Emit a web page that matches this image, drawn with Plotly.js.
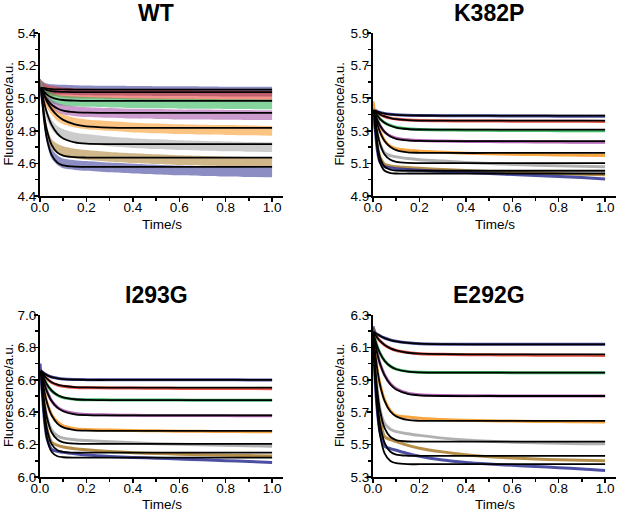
<!DOCTYPE html>
<html>
<head>
<meta charset="utf-8">
<script src="https://cdn.plot.ly/plotly-3.0.1.min.js"></script>
<style>
html,body{margin:0;padding:0;background:#fff;}
#chart{width:617px;height:511px;}
</style>
</head>
<body>
<div id="chart"></div>
<script>
// ---------- data ----------
const PANEL_TITLES = ["WT", "K382P", "I293G", "E292G"];
const SERIES_COLORS = ["#2e3192", "#e8392b", "#22b14c", "#a349a4", "#f7941d", "#a3a3a3", "#a87b2a", "#2e3192"];
const X_TITLE = "Time/s";
const Y_TITLE = "Fluorescence/a.u.";
const X_TICKS = [0, 0.2, 0.4, 0.6, 0.8, 1.0];

// time points of the measured traces
const T_DATA = [0, 0.01, 0.02, 0.03, 0.05, 0.075, 0.1, 0.15, 0.2, 0.3, 0.4, 0.5, 0.6, 0.7, 0.8, 0.9, 1.0];
// time points of the fitted curves
const T_FIT = [0.005, 0.01, 0.02, 0.03, 0.05, 0.075, 0.1, 0.15, 0.2, 0.3, 0.5, 1.0];
const T_FIT_E = [0.002, 0.01, 0.02, 0.03, 0.05, 0.075, 0.1, 0.15, 0.2, 0.3, 0.5, 1.0];

// ---- WT (scattered raw data: centre + half width of the noise band) ----
const WT_NOISE = [0.05, 0.04, 0.035, 0.032, 0.03, 0.03, 0.03, 0.03, 0.03, 0.03, 0.03, 0.03, 0.03, 0.03, 0.03, 0.03, 0.03];
const WT_DATA = [
  [5.07, 5.065, 5.06, 5.058, 5.055, 5.053, 5.052, 5.05, 5.048, 5.046, 5.045, 5.044, 5.043, 5.042, 5.041, 5.04, 5.04],
  [5.07, 5.06, 5.055, 5.05, 5.045, 5.04, 5.035, 5.03, 5.028, 5.025, 5.022, 5.02, 5.02, 5.018, 5.017, 5.016, 5.015],
  [5.07, 5.055, 5.035, 5.02, 5.0, 4.99, 4.985, 4.98, 4.977, 4.973, 4.97, 4.968, 4.966, 4.965, 4.964, 4.963, 4.962],
  [5.07, 5.045, 5.015, 4.99, 4.96, 4.94, 4.93, 4.92, 4.915, 4.91, 4.905, 4.903, 4.90, 4.90, 4.898, 4.897, 4.896],
  [5.07, 5.04, 5.0, 4.97, 4.93, 4.89, 4.87, 4.85, 4.84, 4.83, 4.82, 4.815, 4.81, 4.807, 4.805, 4.803, 4.80],
  [5.07, 5.02, 4.95, 4.9, 4.84, 4.8, 4.78, 4.76, 4.75, 4.735, 4.725, 4.718, 4.712, 4.708, 4.705, 4.702, 4.70],
  [5.07, 4.99, 4.88, 4.8, 4.72, 4.69, 4.675, 4.66, 4.652, 4.64, 4.632, 4.626, 4.62, 4.616, 4.613, 4.61, 4.608],
  [5.07, 4.97, 4.84, 4.75, 4.66, 4.62, 4.6, 4.59, 4.585, 4.575, 4.568, 4.562, 4.557, 4.553, 4.55, 4.547, 4.545]
];
const WT_FIT = [
  [5.065, 5.063, 5.061, 5.059, 5.056, 5.054, 5.054, 5.053, 5.053, 5.053, 5.053, 5.053],
  [5.065, 5.061, 5.055, 5.050, 5.044, 5.040, 5.039, 5.037, 5.037, 5.037, 5.037, 5.037],
  [5.065, 5.054, 5.036, 5.022, 5.005, 4.994, 4.989, 4.985, 4.984, 4.984, 4.984, 4.984],
  [5.065, 5.047, 5.016, 4.993, 4.960, 4.937, 4.924, 4.914, 4.911, 4.910, 4.910, 4.910],
  [5.065, 5.045, 5.009, 4.980, 4.933, 4.893, 4.867, 4.839, 4.827, 4.820, 4.818, 4.818],
  [5.065, 5.026, 4.960, 4.909, 4.836, 4.783, 4.753, 4.729, 4.721, 4.718, 4.718, 4.718],
  [5.065, 4.991, 4.878, 4.802, 4.714, 4.666, 4.648, 4.638, 4.636, 4.636, 4.636, 4.636],
  [5.065, 4.973, 4.838, 4.749, 4.652, 4.605, 4.588, 4.580, 4.579, 4.579, 4.579, 4.579]
];

// ---- K382P ----
const K_DATA = [
  [5.43, 5.425, 5.418, 5.413, 5.407, 5.402, 5.399, 5.396, 5.394, 5.393, 5.392, 5.392, 5.391, 5.391, 5.39, 5.39, 5.39],
  [5.43, 5.42, 5.41, 5.40, 5.388, 5.378, 5.372, 5.366, 5.363, 5.361, 5.36, 5.36, 5.359, 5.359, 5.358, 5.358, 5.357],
  [5.43, 5.412, 5.391, 5.373, 5.35, 5.333, 5.322, 5.312, 5.308, 5.305, 5.304, 5.303, 5.302, 5.302, 5.301, 5.3, 5.3],
  [5.43, 5.40, 5.362, 5.333, 5.293, 5.268, 5.255, 5.245, 5.24, 5.237, 5.235, 5.234, 5.233, 5.232, 5.231, 5.23, 5.23],
  [5.48, 5.39, 5.335, 5.295, 5.24, 5.205, 5.19, 5.18, 5.175, 5.168, 5.163, 5.159, 5.156, 5.154, 5.152, 5.15, 5.149],
  [5.43, 5.36, 5.28, 5.22, 5.165, 5.148, 5.14, 5.13, 5.123, 5.114, 5.106, 5.1, 5.094, 5.089, 5.085, 5.082, 5.08],
  [5.43, 5.32, 5.2, 5.14, 5.095, 5.085, 5.08, 5.075, 5.07, 5.063, 5.057, 5.051, 5.046, 5.041, 5.037, 5.033, 5.03],
  [5.43, 5.3, 5.17, 5.11, 5.08, 5.072, 5.068, 5.063, 5.058, 5.05, 5.044, 5.038, 5.032, 5.026, 5.02, 5.013, 5.005]
];
const K_FIT = [
  [5.425, 5.422, 5.417, 5.412, 5.406, 5.401, 5.398, 5.395, 5.394, 5.393, 5.393, 5.393],
  [5.425, 5.419, 5.409, 5.400, 5.388, 5.378, 5.371, 5.365, 5.363, 5.362, 5.362, 5.362],
  [5.425, 5.412, 5.391, 5.373, 5.349, 5.331, 5.320, 5.311, 5.308, 5.307, 5.307, 5.307],
  [5.425, 5.401, 5.362, 5.333, 5.293, 5.265, 5.251, 5.241, 5.238, 5.237, 5.237, 5.237],
  [5.425, 5.391, 5.335, 5.294, 5.238, 5.201, 5.182, 5.168, 5.165, 5.164, 5.164, 5.164],
  [5.425, 5.367, 5.279, 5.221, 5.155, 5.122, 5.109, 5.103, 5.102, 5.102, 5.102, 5.102],
  [5.425, 5.329, 5.206, 5.138, 5.080, 5.061, 5.056, 5.055, 5.055, 5.055, 5.055, 5.055],
  [5.425, 5.311, 5.173, 5.105, 5.055, 5.041, 5.038, 5.038, 5.038, 5.038, 5.038, 5.038]
];

// ---- I293G ----
const I_DATA = [
  [6.66, 6.648, 6.637, 6.629, 6.617, 6.61, 6.605, 6.602, 6.601, 6.6, 6.6, 6.6, 6.6, 6.6, 6.6, 6.599, 6.598],
  [6.66, 6.643, 6.62, 6.605, 6.583, 6.568, 6.56, 6.553, 6.551, 6.55, 6.549, 6.548, 6.547, 6.547, 6.546, 6.546, 6.545],
  [6.66, 6.634, 6.598, 6.57, 6.532, 6.505, 6.49, 6.48, 6.477, 6.476, 6.475, 6.475, 6.475, 6.474, 6.474, 6.474, 6.473],
  [6.66, 6.623, 6.57, 6.53, 6.47, 6.43, 6.41, 6.392, 6.386, 6.383, 6.381, 6.38, 6.38, 6.379, 6.379, 6.378, 6.378],
  [6.66, 6.6, 6.52, 6.46, 6.385, 6.34, 6.315, 6.298, 6.293, 6.29, 6.287, 6.285, 6.283, 6.282, 6.281, 6.28, 6.28],
  [6.66, 6.57, 6.45, 6.37, 6.29, 6.255, 6.24, 6.23, 6.225, 6.217, 6.211, 6.206, 6.202, 6.199, 6.196, 6.193, 6.19],
  [6.66, 6.54, 6.39, 6.3, 6.215, 6.195, 6.185, 6.175, 6.168, 6.158, 6.15, 6.145, 6.141, 6.138, 6.135, 6.132, 6.13],
  [6.70, 6.52, 6.34, 6.24, 6.17, 6.158, 6.152, 6.143, 6.136, 6.127, 6.121, 6.116, 6.111, 6.106, 6.101, 6.096, 6.09]
];
const I_FIT = [
  [6.655, 6.648, 6.637, 6.629, 6.617, 6.609, 6.604, 6.601, 6.599, 6.599, 6.599, 6.599],
  [6.655, 6.643, 6.623, 6.607, 6.585, 6.570, 6.562, 6.555, 6.553, 6.552, 6.552, 6.552],
  [6.655, 6.634, 6.599, 6.571, 6.534, 6.506, 6.492, 6.480, 6.476, 6.475, 6.475, 6.475],
  [6.655, 6.623, 6.569, 6.527, 6.469, 6.428, 6.406, 6.387, 6.382, 6.380, 6.380, 6.380],
  [6.655, 6.604, 6.521, 6.460, 6.381, 6.330, 6.306, 6.290, 6.286, 6.285, 6.285, 6.285],
  [6.655, 6.572, 6.448, 6.367, 6.276, 6.231, 6.214, 6.206, 6.205, 6.205, 6.205, 6.205],
  [6.655, 6.543, 6.388, 6.295, 6.203, 6.165, 6.155, 6.150, 6.150, 6.150, 6.150, 6.150],
  [6.655, 6.516, 6.338, 6.239, 6.156, 6.128, 6.122, 6.120, 6.120, 6.120, 6.120, 6.120]
];

// ---- E292G ----
const E_DATA = [
  [6.23, 6.19, 6.18, 6.172, 6.158, 6.146, 6.138, 6.128, 6.123, 6.12, 6.119, 6.119, 6.119, 6.119, 6.12, 6.12, 6.12],
  [6.22, 6.175, 6.156, 6.14, 6.115, 6.094, 6.081, 6.068, 6.061, 6.057, 6.055, 6.054, 6.053, 6.052, 6.052, 6.051, 6.05],
  [6.22, 6.143, 6.099, 6.065, 6.018, 5.984, 5.966, 5.952, 5.947, 5.945, 5.945, 5.945, 5.944, 5.944, 5.944, 5.944, 5.944],
  [6.22, 6.118, 6.052, 6.0, 5.93, 5.875, 5.845, 5.818, 5.808, 5.803, 5.802, 5.801, 5.8, 5.8, 5.8, 5.8, 5.8],
  [6.22, 6.057, 5.95, 5.875, 5.775, 5.71, 5.68, 5.67, 5.662, 5.655, 5.65, 5.647, 5.645, 5.643, 5.642, 5.641, 5.64],
  [6.22, 5.97, 5.82, 5.72, 5.63, 5.595, 5.58, 5.567, 5.557, 5.54, 5.528, 5.52, 5.515, 5.511, 5.508, 5.506, 5.505],
  [6.22, 5.93, 5.76, 5.66, 5.55, 5.53, 5.518, 5.495, 5.478, 5.455, 5.437, 5.425, 5.417, 5.411, 5.406, 5.403, 5.40],
  [6.22, 5.88, 5.69, 5.58, 5.49, 5.475, 5.465, 5.445, 5.428, 5.405, 5.39, 5.38, 5.372, 5.365, 5.357, 5.35, 5.34]
];
const E_FIT = [
  [6.198, 6.189, 6.179, 6.171, 6.157, 6.145, 6.137, 6.128, 6.123, 6.120, 6.119, 6.119],
  [6.195, 6.176, 6.157, 6.140, 6.115, 6.094, 6.081, 6.067, 6.061, 6.058, 6.057, 6.057],
  [6.187, 6.143, 6.099, 6.065, 6.017, 5.983, 5.965, 5.950, 5.946, 5.944, 5.944, 5.944],
  [6.182, 6.118, 6.052, 6.001, 5.927, 5.871, 5.840, 5.813, 5.804, 5.800, 5.800, 5.800],
  [6.168, 6.057, 5.950, 5.871, 5.770, 5.704, 5.674, 5.652, 5.647, 5.646, 5.646, 5.646],
  [6.145, 5.966, 5.813, 5.712, 5.601, 5.547, 5.528, 5.519, 5.518, 5.518, 5.518, 5.518],
  [6.134, 5.921, 5.743, 5.629, 5.511, 5.456, 5.438, 5.431, 5.430, 5.430, 5.430, 5.430],
  [6.122, 5.877, 5.681, 5.562, 5.446, 5.399, 5.385, 5.379, 5.379, 5.379, 5.379, 5.379]
];

const Y_RANGES = [[4.4, 5.4], [4.9, 5.9], [6.0, 7.0], [5.3, 6.3]];

// ---------- figure ----------
const W = 617, H = 511;
function hexA(hex, a) {
  const n = parseInt(hex.slice(1), 16);
  return `rgba(${(n >> 16) & 255},${(n >> 8) & 255},${n & 255},${a})`;
}

const traces = [];
const axSuffix = ["", "2", "3", "4"];

// WT: noise bands
WT_DATA.forEach((c, i) => {
  const lo = c.map((v, j) => v - WT_NOISE[j]);
  const hi = c.map((v, j) => v + WT_NOISE[j]);
  traces.push({x: T_DATA, y: lo, xaxis: "x", yaxis: "y", mode: "lines",
    line: {width: 0, shape: "spline", smoothing: 0.8, color: SERIES_COLORS[i]}, hoverinfo: "skip", showlegend: false});
  traces.push({x: T_DATA, y: hi, xaxis: "x", yaxis: "y", mode: "lines", fill: "tonexty",
    fillcolor: hexA(SERIES_COLORS[i], 0.55),
    line: {width: 0, shape: "spline", smoothing: 0.8, color: SERIES_COLORS[i]}, hoverinfo: "skip", showlegend: false});
});
WT_FIT.forEach(f => traces.push({x: T_FIT, y: f, xaxis: "x", yaxis: "y", mode: "lines",
  line: {color: "#000", width: 1.8, shape: "spline", smoothing: 0.8}, showlegend: false}));

const OTHER = [[K_DATA, K_FIT, T_FIT, 1], [I_DATA, I_FIT, T_FIT, 2], [E_DATA, E_FIT, T_FIT_E, 3]];
OTHER.forEach(([D, F, TF, p]) => {
  const xa = "x" + axSuffix[p], ya = "y" + axSuffix[p];
  D.forEach((d, i) => traces.push({x: T_DATA, y: d, xaxis: xa, yaxis: ya, mode: "lines",
    line: {color: SERIES_COLORS[i], width: 3, shape: "spline", smoothing: 0.8}, opacity: 0.85, showlegend: false}));
  F.forEach(f => traces.push({x: TF, y: f, xaxis: xa, yaxis: ya, mode: "lines",
    line: {color: "#000", width: 1.8, shape: "spline", smoothing: 0.8}, showlegend: false}));
});

// panel geometry in pixels: [left, right, top, bottom]
const BOX = [[40, 283, 33, 196], [373, 616, 33, 196], [40, 283, 315, 477], [373, 616, 315, 477]];
// axis title pixel positions: [x-title centre y, y-title centre x]
const TITLE_POS = [[224, 8], [224, 339], [504, 8], [504, 339]];
const FONT = "Liberation Sans, Arial, Helvetica, sans-serif";

const layout = {
  width: W, height: H,
  margin: {l: 0, r: 0, t: 0, b: 0},
  paper_bgcolor: "#fff", plot_bgcolor: "#fff",
  font: {family: FONT, size: 13, color: "#000"},
  showlegend: false,
  annotations: []
};

BOX.forEach((b, p) => {
  const common = {
    showline: true, linewidth: 2, linecolor: "#000",
    ticks: "outside", ticklen: 4, tickwidth: 1.5, tickcolor: "#000",
    showgrid: false, zeroline: false, automargin: false,
    tickfont: {family: FONT, size: 13.5, color: "#000"},
    tickformat: ".1f",
    minor: {ticks: "outside", ticklen: 3, tickwidth: 1.5, tickcolor: "#000", dtick: 0.1, showgrid: false}
  };
  layout["xaxis" + axSuffix[p]] = Object.assign({}, common, {
    domain: [b[0] / W, b[1] / W], anchor: "y" + axSuffix[p],
    range: [0, 1.047], tickmode: "array", tickvals: X_TICKS,
    ticklabelstandoff: -6
  });
  layout["yaxis" + axSuffix[p]] = Object.assign({}, common, {
    domain: [1 - b[3] / H, 1 - b[2] / H], anchor: "x" + axSuffix[p],
    range: Y_RANGES[p], tick0: Y_RANGES[p][0], dtick: 0.2,
    ticklabelstandoff: -5
  });
  // panel title
  layout.annotations.push({
    text: PANEL_TITLES[p], xref: "paper", yref: "paper",
    x: ((b[0] + (b[1] - b[0]) / 1.047 / 2)) / W,
    y: 1 - (b[2] - 20) / H,
    xanchor: "center", yanchor: "middle", showarrow: false,
    font: {family: FONT, size: 23, color: "#000", weight: "bold"}
  });
  // x-axis title
  layout.annotations.push({
    text: X_TITLE, xref: "paper", yref: "paper",
    x: ((b[0] + b[1]) / 2) / W, y: 1 - TITLE_POS[p][0] / H,
    xanchor: "center", yanchor: "middle", showarrow: false,
    font: {family: FONT, size: 13.5, color: "#000"}
  });
  // y-axis title
  layout.annotations.push({
    text: Y_TITLE, xref: "paper", yref: "paper", textangle: -90,
    x: TITLE_POS[p][1] / W, y: 1 - ((b[2] + b[3]) / 2) / H,
    xanchor: "center", yanchor: "middle", showarrow: false,
    font: {family: FONT, size: 13, color: "#000"}
  });
});

Plotly.newPlot("chart", traces, layout, {staticPlot: true, displayModeBar: false});
</script>
</body>
</html>
